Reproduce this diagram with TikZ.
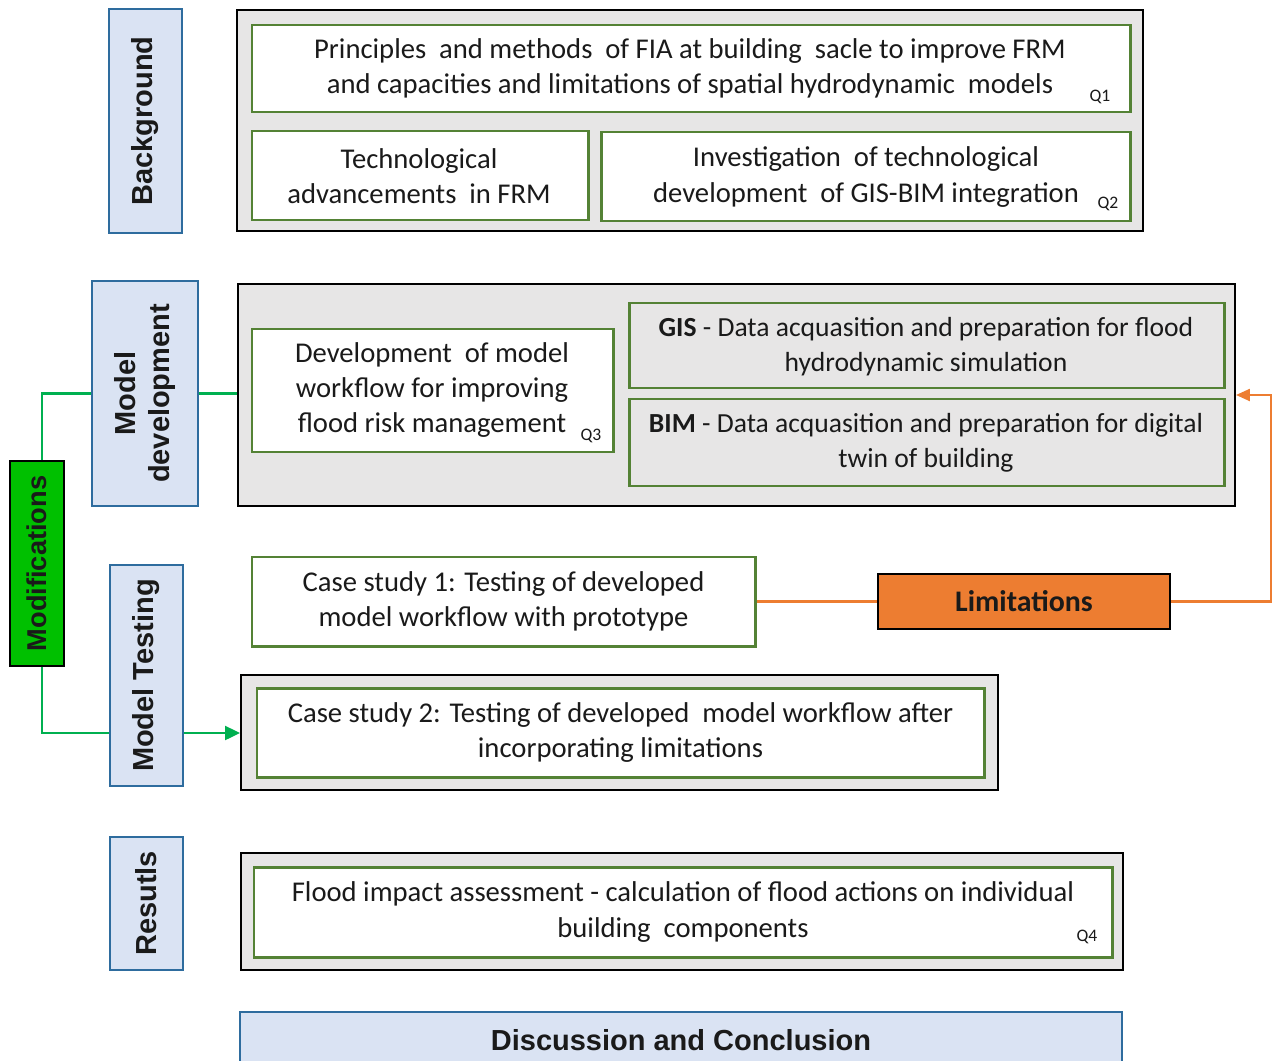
\documentclass[tikz,border=0pt]{standalone}
\usepackage{fontspec}
\setmainfont{Carlito}
\newfontfamily\headfont{Liberation Sans}
\usetikzlibrary{arrows.meta,fit}
\definecolor{grpfill}{HTML}{E7E6E6}
\definecolor{boxgreen}{HTML}{548235}
\definecolor{stagefill}{HTML}{DAE3F3}
\definecolor{stageblue}{HTML}{2E6C9E}
\definecolor{modgreen}{HTML}{00C000}
\definecolor{linkgreen}{HTML}{00B050}
\definecolor{limorange}{HTML}{ED7D31}
\definecolor{txt}{HTML}{1A1A1A}
\tikzset{
  grp/.style={draw=black, fill=grpfill, line width=1.1pt, inner sep=0pt},
  gbox/.style={draw=boxgreen, fill=white, line width=1.7pt, inner sep=0pt,
    align=center, text=txt, font=\fontsize{16.3}{20}\selectfont},
  gboxg/.style={gbox, fill=grpfill},
  stage/.style={draw=stageblue, fill=stagefill, line width=1.1pt, inner sep=0pt},
  stagetext/.style={rotate=90, align=center, inner sep=0pt, text=txt,
    font=\headfont\bfseries\fontsize{16.5}{19.5}\selectfont},
  qtag/.style={inner sep=0pt, text=txt, font=\fontsize{10}{12}\selectfont},
  link/.style={draw=linkgreen, line width=1.3pt},
  flag/.style={draw=limorange, line width=1.3pt},
}
\begin{document}
\begin{tikzpicture}[x=0.02cm, y=-0.02cm]
\useasboundingbox (0,0) rectangle (1274,1061);

% ---- Background ----
\node[stage, fit={(109,9) (182,233)}] (bgL) {};
\node[stagetext] (bgT) at (bgL.center) {Background};
\node[grp, fit={(237,10) (1143,231)}] (bgG) {};
\node[gbox, fit={(252,25) (1130,112)}] (q1box) {};
\node[gbox, draw=none, fill=none] (q1txt) at (690,68) {Principles \ and methods \ of FIA at building \ sacle to improve FRM\\and capacities and limitations of spatial hydrodynamic \ models};
\node[qtag] (q1) at (1100,97) {Q1};
\node[gbox, fit={(252,131) (588,220)}] (techbox) {};
\node[gbox, draw=none, fill=none] (techtxt) at (419,176) {Technological\\advancements \ in FRM};
\node[gbox, fit={(601,132) (1130,221)}] (invbox) {};
\node[gbox, draw=none, fill=none] (invtxt) at (866,177) {Investigation \ of technological\\development \ of GIS-BIM integration};
\node[qtag] (q2) at (1108,204) {Q2};

% ---- Model development ----
\node[stage, fit={(92,281) (198,506)}] (mdL) {};
\node[stagetext] (mdT) at (mdL.center) {Model\\development};
\node[grp, fit={(238,284) (1235,506)}] (mdG) {};
\node[gbox, fit={(252,329) (613,452)}] (devbox) {};
\node[gbox, draw=none, fill=none] (devtxt) at (432,390) {Development \ of model\\workflow for improving\\flood risk management};
\node[qtag] (q3) at (591,436) {Q3};
\node[gboxg, fit={(629,303) (1224,388)}] (gisbox) {};
\node[gbox, draw=none, fill=none, font=\fontsize{15.7}{20}\selectfont] (gistxt) at (926,347) {\textbf{GIS} - Data acquasition and preparation for flood\\hydrodynamic simulation};
\node[gboxg, fit={(629,399) (1224,486)}] (bimbox) {};
\node[gbox, draw=none, fill=none, font=\fontsize{15.7}{20}\selectfont] (bimtxt) at (926,443) {\textbf{BIM} - Data acquasition and preparation for digital\\twin of building};

% ---- Modifications ----
\node[draw=black, fill=modgreen, line width=1.1pt, inner sep=0pt, fit={(10,461) (64,666)}] (mod) {};
\node[stagetext, font=\headfont\bfseries\fontsize{15.5}{18}\selectfont] (modT) at (mod.center) {Modifications};

% ---- Model Testing ----
\node[stage, fit={(110,565) (183,786)}] (mtL) {};
\node[stagetext] (mtT) at (mtL.center) {Model Testing};
\node[gbox, fit={(252,557) (755,646)}] (cs1) {};
\node[gbox, draw=none, fill=none] (cs1txt) at (cs1.center) {Case study 1: Testing of developed\\model workflow with prototype};
\node[draw=black, fill=limorange, line width=1.4pt, inner sep=0pt, fit={(878,574) (1170,629)}] (lim) {};
\node[inner sep=0pt, text=txt, font=\bfseries\fontsize{17}{20}\selectfont] (limT) at (lim.center) {Limitations};
\node[grp, fit={(241,675) (998,790)}] (c2G) {};
\node[gbox, fit={(257,688) (984,777)}] (cs2) {};
\node[gbox, draw=none, fill=none] (cs2txt) at (cs2.center) {Case study 2: Testing of developed \ model workflow after\\incorporating limitations};

% ---- Results ----
\node[stage, fit={(110,837) (183,970)}] (resL) {};
\node[stagetext] (resT) at (resL.center) {Resutls};
\node[grp, fit={(241,853) (1123,970)}] (resG) {};
\node[gbox, fit={(254,867) (1112,957)}] (q4box) {};
\node[gbox, draw=none, fill=none] (q4txt) at (683,912) {Flood impact assessment - calculation of flood actions on individual\\building \ components};
\node[qtag] (q4) at (1087,937) {Q4};

% ---- Discussion ----
\node[stage, fit={(240,1012) (1122,1080)}] (disc) {};
\node[inner sep=0pt, text=txt, font=\headfont\bfseries\fontsize{16.5}{19}\selectfont] (discT) at (681,1040) {Discussion and Conclusion};

% ---- connectors ----
\coordinate (mtArrow) at (0,733);
\coordinate (fbk) at (1271,395);
\draw[link] ([xshift=0.1cm]mod.north) |- (mdL.west);
\draw[link] (mdL.east) -- (mdL.east -| mdG.west);
\draw[link] ([xshift=0.1cm]mod.south) |- (mtL.west |- mtArrow);
\draw[link, -{Triangle[length=0.3cm, width=0.28cm]}] (mtL.east |- mtArrow) -- (c2G.west |- mtArrow);
\draw[flag] (cs1.east) -- (lim.west);
\draw[flag, -{Triangle[length=0.28cm, width=0.24cm]}] (lim.east) -| (fbk) -- (mdG.east |- fbk);
\end{tikzpicture}
\end{document}
